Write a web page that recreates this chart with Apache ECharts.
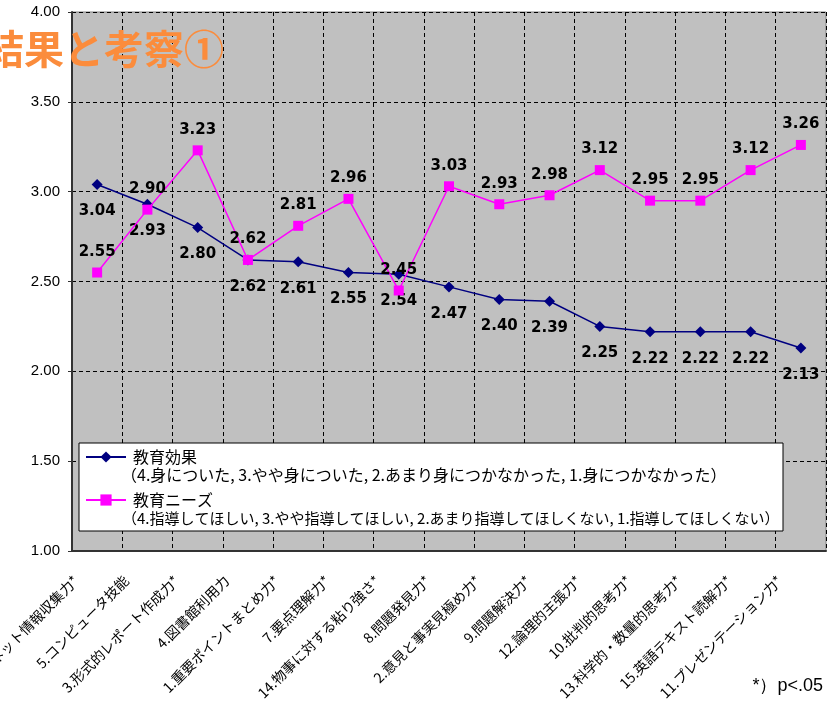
<!DOCTYPE html>
<html>
<head>
<meta charset="utf-8">
<script src="https://cdn.jsdelivr.net/npm/echarts@6/dist/echarts.min.js"></script>
<style>
  html, body { margin: 0; padding: 0; background: #fff; }
  #main { width: 834px; height: 713px; }
</style>
</head>
<body>
<div id="main"></div>
<script>
// 項目（横軸）
const categories = [
  '6.インターネット情報収集力*', '5.コンピュータ技能', '3.形式的レポート作成力*', '4.図書館利用力',
  '1.重要ポイントまとめ力*', '7.要点理解力*', '14.物事に対する粘り強さ*', '8.問題発見力*',
  '2.意見と事実見極め力*', '9.問題解決力*', '12.論理的主張力*', '10.批判的思考力*',
  '13.科学的・数量的思考力*', '15.英語テキスト読解力*', '11.プレゼンテーション力*'
];
// 教育効果
const effectVals = [3.04, 2.93, 2.80, 2.62, 2.61, 2.55, 2.54, 2.47, 2.40, 2.39, 2.25, 2.22, 2.22, 2.22, 2.13];
// 教育ニーズ
const needsVals = [2.55, 2.90, 3.23, 2.62, 2.81, 2.96, 2.45, 3.03, 2.93, 2.98, 3.12, 2.95, 2.95, 3.12, 3.26];
const seriesNames = ['教育効果', '教育ニーズ'];
const seriesNotes = [
  '（4.身についた, 3.やや身についた, 2.あまり身につかなかった, 1.身につかなかった）',
  '（4.指導してほしい, 3.やや指導してほしい, 2.あまり指導してほしくない, 1.指導してほしくない）'
];

const jp = '"Noto Sans CJK JP", sans-serif';
const latin = '"Liberation Sans", Arial, sans-serif';
const chart = echarts.init(document.getElementById('main'));

const labelStyle = {
  show: true,
  color: '#000',
  fontSize: 15,
  fontWeight: 'bold',
  fontFamily: '"DejaVu Sans", sans-serif',
  formatter: p => p.value.toFixed(2)
};

chart.setOption({
  animation: false,
  grid: {
    left: 72, right: 8, top: 12, bottom: 162,
    outerBoundsMode: 'none',
    show: true,
    backgroundColor: '#c0c0c0',
    borderColor: '#808080',
    borderWidth: 1
  },
  legend: {
    orient: 'vertical',
    left: 85, top: 449,
    padding: 0,
    itemWidth: 40, itemHeight: 14,
    itemGap: 27,
    z: 10,
    textStyle: { color: '#000', fontSize: 16, lineHeight: 16, padding: [0, 0, 0, 2], fontFamily: jp },
    data: seriesNames
  },
  xAxis: {
    type: 'category',
    data: categories,
    boundaryGap: true,
    axisLine: { lineStyle: { color: '#333', width: 2 } },
    axisTick: { inside: true, length: 5, lineStyle: { color: '#333' } },
    axisLabel: {
      rotate: 45, interval: 0, margin: 6, padding: [0, 30, 0, 0],
      color: '#000', fontSize: 14, fontFamily: jp
    },
    splitLine: { show: true, lineStyle: { color: '#000', type: [4, 3], width: 1 } }
  },
  yAxis: {
    type: 'value',
    min: 1, max: 4, interval: 0.5,
    axisLine: { show: true, lineStyle: { color: '#333', width: 2 } },
    axisTick: { show: true, length: 4, lineStyle: { color: '#333' } },
    axisLabel: {
      color: '#000', fontSize: 15, margin: 12,
      fontFamily: latin,
      formatter: v => v.toFixed(2)
    },
    splitLine: { show: true, lineStyle: { color: '#000', type: [4, 3], width: 1 } }
  },
  series: [
    {
      name: seriesNames[0],
      type: 'line',
      data: effectVals,
      symbol: 'diamond', symbolSize: 11,
      itemStyle: { color: '#000080' },
      lineStyle: { color: '#000080', width: 1.5 },
      label: Object.assign({}, labelStyle, { position: 'bottom', distance: 14 }),
      z: 3
    },
    {
      name: seriesNames[1],
      type: 'line',
      data: needsVals,
      symbol: 'rect', symbolSize: 10,
      itemStyle: { color: '#ff00ff' },
      lineStyle: { color: '#ff00ff', width: 1.5 },
      label: Object.assign({}, labelStyle, { position: 'top', distance: 8 }),
      z: 4
    }
  ],
  graphic: [
    // 凡例の枠
    {
      type: 'rect', z: 6,
      shape: { x: 79, y: 443, width: 704, height: 88 },
      style: { fill: '#fff', stroke: '#000', lineWidth: 1 }
    },
    {
      type: 'text', z: 11, x: 121, y: 475,
      style: { text: seriesNotes[0], fill: '#000', fontSize: 16, fontFamily: jp, verticalAlign: 'middle' }
    },
    {
      type: 'text', z: 11, x: 122, y: 518,
      style: { text: seriesNotes[1], fill: '#000', fontSize: 15, fontFamily: jp, verticalAlign: 'middle' }
    },
    // タイトル（左端で切れている）
    {
      type: 'text', z: 20, x: -16, y: 49,
      style: { text: '結果と考察①', fill: '#fb8c3c', fontSize: 40, fontWeight: 'bold', fontFamily: jp, verticalAlign: 'middle' }
    },
    {
      type: 'text', z: 20, x: 823, y: 686,
      style: { text: '*）p<.05', fill: '#000', fontSize: 18, fontFamily: latin, align: 'right', verticalAlign: 'middle' }
    }
  ]
});
</script>
</body>
</html>
